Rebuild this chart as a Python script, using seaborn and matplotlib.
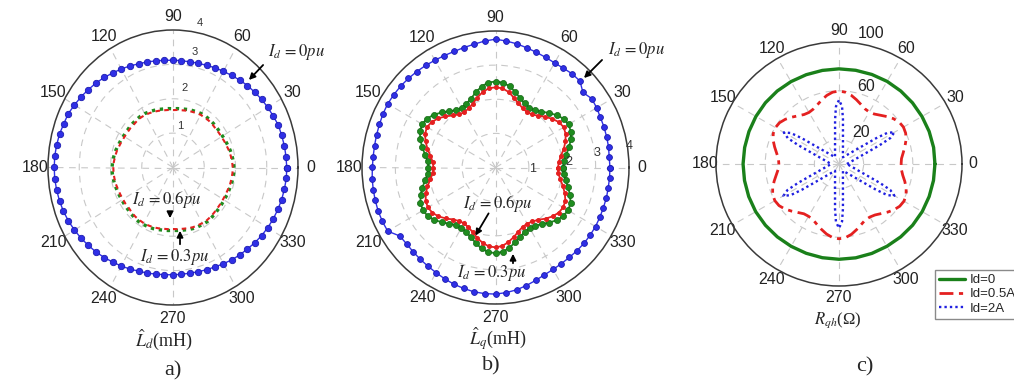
import numpy as np
import matplotlib
matplotlib.use("Agg")
import matplotlib.pyplot as plt
import seaborn as sns

# ---------------- data ----------------
theta_labels = ["0", "30", "60", "90", "120", "150", "180", "210", "240", "270", "300", "330"]
ang5 = list(range(0, 360, 5))

# a) estimated d-axis inductance (mH)
ld_id0 = [3.64, 3.63, 3.62, 3.60, 3.59, 3.54, 3.50, 3.46, 3.41, 3.37, 3.32, 3.27,
          3.23, 3.20, 3.16, 3.14, 3.12, 3.12, 3.12, 3.13, 3.15, 3.18, 3.21, 3.26,
          3.31, 3.36, 3.42, 3.48, 3.53, 3.59, 3.64, 3.70, 3.72, 3.76, 3.78, 3.80,
          3.80, 3.80, 3.78, 3.76, 3.73, 3.69, 3.64, 3.59, 3.53, 3.48, 3.42, 3.36,
          3.31, 3.26, 3.21, 3.18, 3.15, 3.13, 3.12, 3.12, 3.12, 3.14, 3.16, 3.19,
          3.23, 3.28, 3.32, 3.36, 3.41, 3.46, 3.50, 3.54, 3.57, 3.60, 3.62, 3.64]
ld_id03 = [1.95, 1.94, 1.92, 1.90, 1.87, 1.85, 1.83, 1.82, 1.82, 1.82, 1.82, 1.82,
           1.81, 1.79, 1.77, 1.75, 1.73, 1.72, 1.71, 1.72, 1.73, 1.75, 1.77, 1.79,
           1.81, 1.82, 1.82, 1.82, 1.82, 1.82, 1.83, 1.85, 1.87, 1.90, 1.92, 1.94,
           1.95, 1.95, 1.94, 1.93, 1.91, 1.90, 1.89, 1.89, 1.89, 1.90, 1.91, 1.92,
           1.91, 1.90, 1.89, 1.87, 1.85, 1.84, 1.83, 1.84, 1.85, 1.87, 1.89, 1.90,
           1.91, 1.92, 1.91, 1.90, 1.89, 1.89, 1.89, 1.90, 1.91, 1.93, 1.94, 1.95]
ld_id06 = [1.91, 1.90, 1.88, 1.86, 1.83, 1.81, 1.79, 1.78, 1.77, 1.78, 1.78, 1.77,
           1.77, 1.75, 1.73, 1.71, 1.69, 1.68, 1.67, 1.68, 1.69, 1.71, 1.73, 1.75,
           1.77, 1.78, 1.78, 1.77, 1.78, 1.78, 1.79, 1.81, 1.83, 1.86, 1.88, 1.90,
           1.91, 1.91, 1.90, 1.89, 1.87, 1.86, 1.85, 1.85, 1.84, 1.86, 1.87, 1.87,
           1.87, 1.86, 1.85, 1.83, 1.81, 1.80, 1.79, 1.80, 1.81, 1.83, 1.85, 1.86,
           1.87, 1.88, 1.87, 1.86, 1.85, 1.85, 1.85, 1.86, 1.87, 1.89, 1.90, 1.91]

# b) estimated q-axis inductance (mH)
lq_id0 = [3.43, 3.42, 3.44, 3.45, 3.46, 3.47, 3.50, 3.52, 3.42, 3.58, 3.58, 3.55,
          3.54, 3.56, 3.59, 3.63, 3.68, 3.72, 3.76, 3.72, 3.67, 3.64, 3.62, 3.62,
          3.63, 3.65, 3.67, 3.69, 3.71, 3.72, 3.73, 3.72, 3.70, 3.69, 3.68, 3.68,
          3.69, 3.71, 3.72, 3.73, 3.74, 3.74, 3.73, 3.50, 3.48, 3.49, 3.51, 3.53,
          3.56, 3.60, 3.64, 3.67, 3.70, 3.71, 3.71, 3.68, 3.64, 3.58, 3.52, 3.47,
          3.45, 3.44, 3.44, 3.45, 3.46, 3.46, 3.46, 3.45, 3.44, 3.44, 3.43, 3.43]
lq_id03 = [2.02, 2.06, 2.15, 2.28, 2.40, 2.49, 2.53, 2.49, 2.39, 2.26, 2.14, 2.05,
           2.03, 2.07, 2.16, 2.29, 2.42, 2.50, 2.52, 2.50, 2.41, 2.28, 2.15, 2.06,
           2.02, 2.05, 2.15, 2.28, 2.41, 2.50, 2.54, 2.50, 2.40, 2.27, 2.14, 2.04,
           2.01, 2.04, 2.14, 2.27, 2.39, 2.48, 2.51, 2.48, 2.39, 2.27, 2.15, 2.06,
           2.04, 2.08, 2.17, 2.29, 2.41, 2.49, 2.51, 2.48, 2.39, 2.27, 2.16, 2.08,
           2.05, 2.08, 2.16, 2.28, 2.40, 2.48, 2.51, 2.48, 2.38, 2.25, 2.13, 2.05]
lq_id06 = [1.87, 1.91, 1.99, 2.12, 2.23, 2.32, 2.36, 2.32, 2.22, 2.10, 1.98, 1.90,
           1.88, 1.92, 2.00, 2.12, 2.25, 2.33, 2.35, 2.33, 2.24, 2.12, 1.99, 1.91,
           1.87, 1.90, 1.99, 2.12, 2.24, 2.33, 2.37, 2.33, 2.23, 2.11, 1.98, 1.89,
           1.86, 1.89, 1.98, 2.11, 2.22, 2.31, 2.34, 2.31, 2.23, 2.11, 1.99, 1.91,
           1.89, 1.93, 2.01, 2.13, 2.24, 2.32, 2.34, 2.31, 2.22, 2.11, 2.00, 1.92,
           1.90, 1.93, 2.00, 2.12, 2.23, 2.31, 2.34, 2.31, 2.21, 2.09, 1.97, 1.89]

# c) resistance R_qh (Ohm)
ang10 = list(range(0, 360, 10))
rq_id0 = [78.0, 78.1, 78.0, 77.9, 78.0, 78.1, 78.2, 78.1, 78.0, 78.0, 77.9, 77.9,
          78.0, 78.1, 78.1, 78.0, 77.9, 77.9, 78.0, 78.0, 78.1, 78.2, 78.1, 78.0,
          77.9, 77.9, 78.0, 78.1, 78.1, 78.0, 77.9, 78.0, 78.1, 78.1, 78.0, 78.0]
rq_id05 = [50.5, 51.0, 53.0, 55.5, 58.0, 59.8, 60.5, 59.8, 57.8, 55.0, 52.2, 50.0,
           49.2, 49.9, 52.0, 54.6, 57.2, 59.1, 59.8, 59.1, 57.1, 54.3, 51.6, 49.6,
           48.8, 49.5, 51.6, 54.3, 57.0, 59.0, 59.7, 59.0, 57.0, 54.2, 51.5, 49.4,
           48.9, 49.6, 51.8, 54.6, 57.4, 59.5, 60.2, 59.5, 57.4, 54.6, 51.9, 49.8,
           49.5, 50.3, 52.6, 55.4, 58.3, 60.5, 61.3, 60.6, 58.5, 55.6, 52.8, 50.6,
           50.2, 51.0, 53.1, 55.8, 58.4, 60.3, 61.0, 60.2, 58.1, 55.4, 52.6, 50.9]
rq_id2_ang = [0, 12, 18, 22, 25, 27, 30, 33, 35, 38, 42, 48,
              60, 72, 78, 82, 85, 87, 90, 93, 95, 98, 102, 108,
              120, 132, 138, 142, 145, 147, 150, 153, 155, 158, 162, 168,
              180, 192, 198, 202, 205, 207, 210, 213, 215, 218, 222, 228,
              240, 252, 258, 262, 265, 267, 270, 273, 275, 278, 282, 288,
              300, 312, 318, 322, 325, 327, 330, 333, 335, 338, 342, 348]
rq_id2 = [6.4, 10.4, 15.4, 23.0, 36.5, 46.8, 52.0, 47.0, 36.8, 23.1, 15.4, 10.3,
          6.4, 10.3, 15.5, 23.2, 36.9, 47.3, 52.5, 47.2, 36.6, 23.0, 15.5, 10.4,
          6.5, 10.4, 15.4, 22.9, 36.6, 46.6, 51.8, 46.7, 36.6, 23.0, 15.3, 10.3,
          6.4, 10.3, 15.4, 23.1, 36.8, 47.0, 52.2, 46.9, 36.7, 23.1, 15.4, 10.4,
          6.4, 10.4, 15.5, 23.2, 37.0, 47.4, 52.6, 47.2, 36.8, 23.0, 15.4, 10.3,
          6.5, 10.3, 15.3, 23.0, 36.7, 46.9, 52.0, 46.7, 36.6, 23.0, 15.4, 10.4]
legend_labels = ["Id=0", "Id=0.5A", "Id=2A"]

# ---------------- styling ----------------
sns.set_theme(style="white")
plt.rcParams["font.family"] = ["Liberation Sans", "DejaVu Sans"]
plt.rcParams["mathtext.fontset"] = "stix"

W, H = 1014, 388
fig = plt.figure(figsize=(W / 100, H / 100), dpi=100)
fig.patch.set_facecolor("white")


def rect(x0, x1, ytop, ybot):
    return [x0 / W, (H - ybot) / H, (x1 - x0) / W, (ybot - ytop) / H]


def closed(th_deg, r):
    th = list(th_deg) + [th_deg[0] + 360]
    rr = list(r) + [r[0]]
    return np.deg2rad(th), rr


def draw(ax, th_deg, r, **kw):
    x, y = closed(th_deg, r)
    sns.lineplot(x=x, y=y, ax=ax, sort=False, estimator=None, **kw)
    return ax.lines[-1]


def setup(ax, rmax, rgrid, pad):
    ax.set_aspect("auto")
    ax.set_ylim(0, rmax)
    ax.set_thetagrids(range(0, 360, 30), labels=theta_labels)
    ax.set_rgrids(rgrid, labels=[""] * len(rgrid))
    ax.grid(True, color="#c8c8c8", linestyle=(0, (6, 5)), linewidth=0.8)
    ax.spines["polar"].set_color("#3a3a3a")
    ax.spines["polar"].set_linewidth(1.1)
    ax.tick_params(axis="x", pad=pad, labelsize=11.5, labelcolor="#222222")
    ax.set_xlabel("")
    ax.set_ylabel("")
    ax.set_facecolor("white")


BLUE = "#2f2fe6"
GREEN = "#1f8c1f"
RED = "#e42020"

# ---- a) ----
axa = fig.add_axes(rect(48, 298, 30, 305), projection="polar")
draw(axa, ang5, ld_id03, color=GREEN, lw=2.4, linestyle=(0, (1, 1.4)))
draw(axa, ang5, ld_id06, color=RED, lw=1.5, linestyle=(0, (2.2, 2)))
draw(axa, ang5, ld_id0, color=BLUE, lw=1.0, marker="o", markersize=4.6,
     markerfacecolor=BLUE, markeredgecolor="#1c1cb0", markeredgewidth=0.6)
setup(axa, 4, [1, 2, 3], -3.5)
for s, t, r in [("1", 79.4, 1.22), ("2", 80.6, 2.34), ("3", 78.2, 3.43), ("4", 78.4, 4.29)]:
    axa.text(np.deg2rad(t), r, s, ha="center", va="center", fontsize=8, color="#333333", clip_on=False)

# ---- b) ----
axb = fig.add_axes(rect(362, 629, 31, 304), projection="polar")
draw(axb, ang5, lq_id03, color=GREEN, lw=1.3, marker="o", markersize=4.4,
     markerfacecolor=GREEN, markeredgecolor="#146614", markeredgewidth=0.5)
draw(axb, ang5, lq_id06, color=RED, lw=1.3, marker="o", markersize=2.8,
     markerfacecolor=RED, markeredgecolor=RED)
draw(axb, ang5, lq_id0, color=BLUE, lw=1.0, marker="o", markersize=4.2,
     markerfacecolor=BLUE, markeredgecolor="#1c1cb0", markeredgewidth=0.6)
setup(axb, 4, [1, 2, 3], -3.5)
for s, t, r in [("1", -1.6, 1.1), ("2", 4.2, 2.2), ("3", 7.7, 3.08), ("4", 9.0, 4.05)]:
    axb.text(np.deg2rad(t), r, s, ha="center", va="center", fontsize=9, color="#333333", clip_on=False)

# ---- c) ----
axc = fig.add_axes(rect(716, 962, 42, 286), projection="polar")
lg = draw(axc, ang10, rq_id0, color="#1a801a", lw=2.4)
lr = draw(axc, ang5, rq_id05, color=RED, lw=2.0, linestyle=(0, (5, 2, 1.5, 2)))
lb = draw(axc, rq_id2_ang, rq_id2, color="#2020e0", lw=1.7, linestyle=(0, (1, 1.3)))
setup(axc, 100, [20, 60], -5)
for s, t, r in [("20", 54.7, 31.2), ("60", 70.9, 67.6), ("100", 76.2, 110)]:
    axc.text(np.deg2rad(t), r, s, ha="center", va="center", fontsize=11.5, color="#222222", clip_on=False)
leg = axc.legend(handles=[lg, lr, lb], labels=legend_labels, loc="upper left",
                 bbox_to_anchor=(935 / W, 1 - 270 / H), bbox_transform=fig.transFigure,
                 fontsize=9.5, handlelength=2.0, handletextpad=0.3, borderpad=0.3,
                 labelspacing=0.15, frameon=True, fancybox=False, framealpha=1,
                 edgecolor="#8a8a8a", borderaxespad=0)
leg.get_frame().set_linewidth(1.0)

# ---- texts and arrows ----
SERIF = ["Liberation Serif", "DejaVu Serif"]


def ftext(x, y, s, **kw):
    fig.text(x / W, 1 - y / H, s, ha="center", va="center", **kw)


def arrow(x0, y0, x1, y1):
    fig.add_artist(matplotlib.patches.FancyArrowPatch(
        (x0 / W, 1 - y0 / H), (x1 / W, 1 - y1 / H), transform=fig.transFigure,
        arrowstyle="-|>", mutation_scale=9, color="black", lw=1.3))


ftext(297, 52, r"$I_d\,=0pu$", fontsize=12)
arrow(265, 63, 247, 82)
ftext(167, 200, r"$I_d\,=0.6pu$", fontsize=12)
arrow(170, 209, 170, 221)
ftext(175, 257, r"$I_d\,=0.3pu$", fontsize=12)
arrow(180, 247, 180, 228)

ftext(637, 50, r"$I_d\,=0pu$", fontsize=12)
arrow(604, 58, 582, 80)
ftext(498, 203, r"$I_d\,=0.6pu$", fontsize=12)
arrow(490, 211, 474, 238)
ftext(492, 273, r"$I_d\,=0.3pu$", fontsize=12)
arrow(513, 266, 513, 251)

ftext(164, 340, r"$\hat{L}_d$(mH)", fontsize=13, family=SERIF)
ftext(173, 371, "a)", fontsize=16, family=SERIF)
ftext(498, 339, r"$\hat{L}_q$(mH)", fontsize=13, family=SERIF)
ftext(491, 366, "b)", fontsize=16, family=SERIF)
ftext(838, 320, r"$R_{qh}$(Ω)", fontsize=12, family=SERIF)
ftext(865, 367, "c)", fontsize=16, family=SERIF)

fig.savefig("out.png", dpi=100, facecolor="white")
